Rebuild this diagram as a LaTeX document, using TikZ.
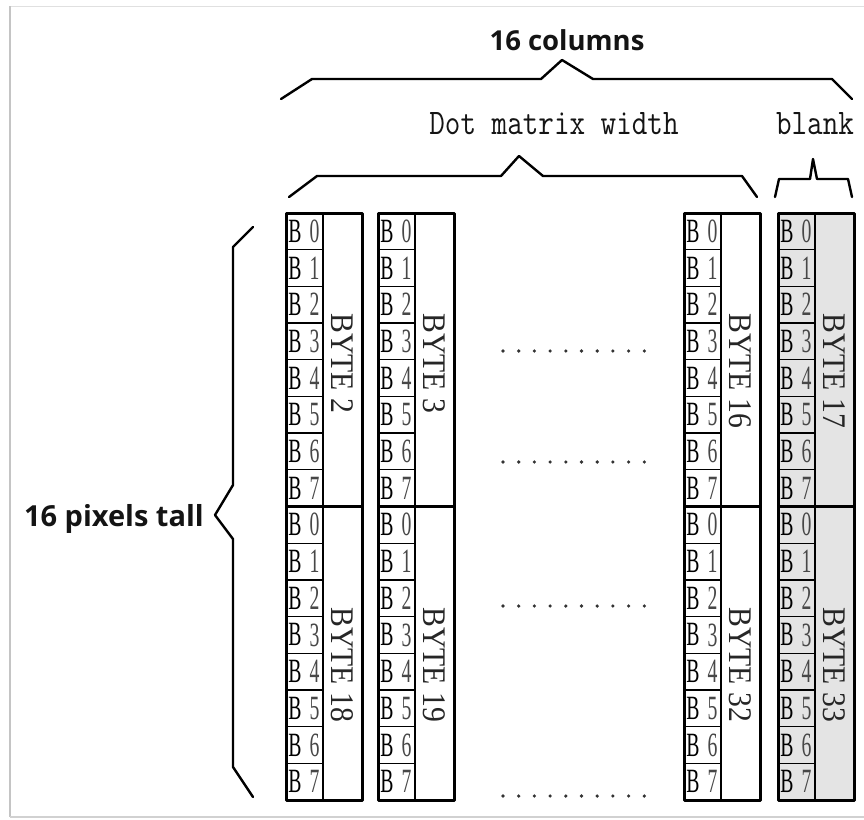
\documentclass[tikz,border=0pt]{standalone}
\usepackage{fontspec}
\setmainfont{Liberation Serif}
\newfontfamily\headsans{Open Sans}
\definecolor{blankfill}{HTML}{E4E4E4}
\definecolor{inkdark}{HTML}{141414}
\definecolor{framegray}{HTML}{C4C4C4}
\begin{document}
\begin{tikzpicture}[x=1pt,y=-1pt,
  outer/.style={line width=3pt,line join=round},
  cellline/.style={line width=1.3pt},
  bracepath/.style={line width=2.4pt,line join=round,line cap=round},
  bitB/.style={inner sep=0pt,font=\fontsize{34}{34}\selectfont,text=black},
  bitD/.style={inner sep=0pt,font=\fontsize{34}{34}\selectfont,text=black!72},
  bytelabel/.style={inner sep=0pt,rotate=-90,anchor=west,font=\fontsize{33}{33}\selectfont,text=black!85},
  headlabel/.style={inner sep=0pt,font=\headsans\bfseries\fontsize{27.5}{27.5}\selectfont,text=inkdark},
  monolabel/.style={inner sep=0pt,font=\ttfamily\fontsize{36}{36}\selectfont,text=inkdark},
  dotmark/.style={fill=black!80}]
\useasboundingbox (0,0) rectangle (864,819);

% page frame
\draw[line width=1pt,black!12] (10,6) -- (864,6);
\draw[line width=2pt,framegray] (10,6) -- (10,817);
\draw[line width=2pt,black!18] (10,817) -- (864,817);

% byte columns: left edge / upper byte / lower byte / fill
\foreach \xl/\ta/\tb/\fc in {286/2/18/white, 378/3/19/white, 684/16/32/white, 778/17/33/blankfill}{
  \fill[\fc] (\xl,213) rectangle ++(76,587);
  \foreach \r in {1,...,15}
    \draw[cellline] ({\xl},{213+\r*36.6875}) -- ++(37,0);
  \draw[cellline] ({\xl+37},213) -- ({\xl+37},800);
  \draw[outer] (\xl,506.5) -- ++(76,0);
  \draw[outer] (\xl,213) rectangle ++(76,587);
  \foreach \r in {0,...,15}{
    \pgfmathtruncatemacro\bit{mod(\r,8)}
    \node[bitB] (b\ta-\r) at ({\xl+9},{213+(\r+0.5)*36.6875}) {\scalebox{0.58}[1]{B}};
    \node[bitD] (d\ta-\r) at ({\xl+28.5},{213+(\r+0.5)*36.6875}) {\scalebox{0.58}[1]{\bit}};
  }
  \node[bytelabel] (byte\ta) at ({\xl+56.5},313) {\scalebox{0.9}[1]{BYTE \ta}};
  \node[bytelabel] (byte\tb) at ({\xl+56.5},607) {\scalebox{0.9}[1]{BYTE \tb}};
}

% ellipsis rows between the columns
\foreach \yy in {351,462,606,796}
  \foreach \k in {0,...,9}
    \fill[dotmark] ({503+\k*15.7},\yy) circle (1.8);

% braces
\draw[bracepath] (281,99) -- (312,79) -- (541,79) -- (562,60) -- (593,79) -- (832,79) -- (852,99);
\draw[bracepath] (289,197) -- (317,176) -- (501,176) -- (519,156) -- (543,176) -- (742,176) -- (757,197);
\draw[bracepath] (775,197) -- (779,179) -- (810,179) -- (813,159) -- (817,179) -- (848,179) -- (852,197);
\draw[bracepath] (253,227) -- (233,247) -- (233,485) -- (215,515) -- (233,539) -- (233,767) -- (253,797);

% labels
\node[headlabel] (cols) at (567,40) {16 columns};
\node[monolabel] (width) at (554,124) {\scalebox{0.84}[1]{Dot matrix width}};
\node[monolabel] (blank) at (815,124) {\scalebox{0.84}[1]{blank}};
\node[headlabel,anchor=east,font=\headsans\bfseries\fontsize{29}{29}\selectfont] (tall) at (204,519) {16 pixels tall};
\end{tikzpicture}
\end{document}
